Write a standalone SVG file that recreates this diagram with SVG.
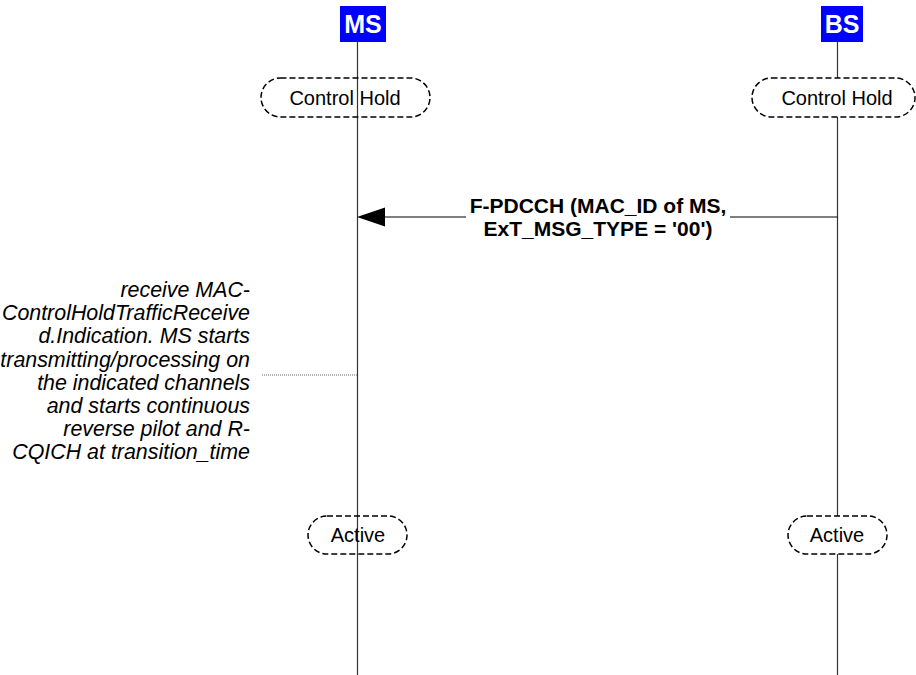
<svg xmlns="http://www.w3.org/2000/svg" width="916" height="675" viewBox="0 0 916 675">
<style>
.life{stroke:#333;stroke-width:1.2;fill:none}
.hdr{fill:#0000FF}
.hdrt{font-family:"Liberation Sans",Arial,sans-serif;font-weight:bold;font-size:25px;fill:#fff;text-anchor:middle}
.state{fill:none;stroke:#000;stroke-width:1.5;stroke-dasharray:6 3}
.statew{fill:#fff;stroke:#000;stroke-width:1.5;stroke-dasharray:6 3}
.st{font-family:"Liberation Sans",Arial,sans-serif;font-size:20px;fill:#000;text-anchor:middle}
.msg{stroke:#000;stroke-width:1.2;fill:none}
.lbl{font-family:"Liberation Sans",Arial,sans-serif;font-weight:bold;font-size:21px;fill:#000;text-anchor:middle}
.note{font-family:"Liberation Sans",Arial,sans-serif;font-style:italic;font-size:21.4px;fill:#000;text-anchor:end}
</style>
<g id="connectors">
<line class="life" x1="357.5" y1="42" x2="357.5" y2="675"/>
<line class="life" x1="837.5" y1="42" x2="837.5" y2="675"/>
<line class="msg" x1="837.5" y1="217" x2="384" y2="217"/>
<polygon points="357,217 385,207.5 385,226.5" fill="#000"/>
<line x1="262" y1="375" x2="357" y2="375" stroke="#666" stroke-width="1" stroke-dasharray="1 1"/>
</g>
<g id="MS">
<rect class="hdr" x="340" y="6" width="46" height="36"/>
<text class="hdrt" x="363" y="33">MS</text>
</g>
<g id="BS">
<rect class="hdr" x="821" y="6" width="42" height="36"/>
<text class="hdrt" x="842" y="33">BS</text>
</g>
<g id="ms-control-hold">
<rect class="state" x="261" y="78" width="169" height="39" rx="19.5"/>
<text class="st" x="345" y="105">Control Hold</text>
</g>
<g id="bs-control-hold">
<rect class="statew" x="752" y="78" width="163" height="39" rx="19.5"/>
<text class="st" x="837" y="105">Control Hold</text>
</g>
<g id="msg-label">
<rect x="466" y="196" width="264" height="48" fill="#fff"/>
<text class="lbl" x="598" y="213">F-PDCCH (MAC_ID of MS,</text>
<text class="lbl" x="598" y="236">ExT_MSG_TYPE = '00')</text>
</g>
<g id="ms-note">
<text class="note" x="250" y="297">receive MAC-</text>
<text class="note" x="250" y="320">ControlHoldTrafficReceive</text>
<text class="note" x="250" y="343">d.Indication. MS starts</text>
<text class="note" x="250" y="367">transmitting/processing on</text>
<text class="note" x="250" y="390">the indicated channels</text>
<text class="note" x="250" y="413">and starts continuous</text>
<text class="note" x="250" y="436">reverse pilot and R-</text>
<text class="note" x="250" y="459">CQICH at transition_time</text>
</g>
<g id="ms-active">
<rect class="state" x="308" y="516" width="99" height="38" rx="19"/>
<text class="st" x="358" y="542">Active</text>
</g>
<g id="bs-active">
<rect class="statew" x="788" y="516" width="99" height="38" rx="19"/>
<text class="st" x="837" y="542">Active</text>
</g>
</svg>
